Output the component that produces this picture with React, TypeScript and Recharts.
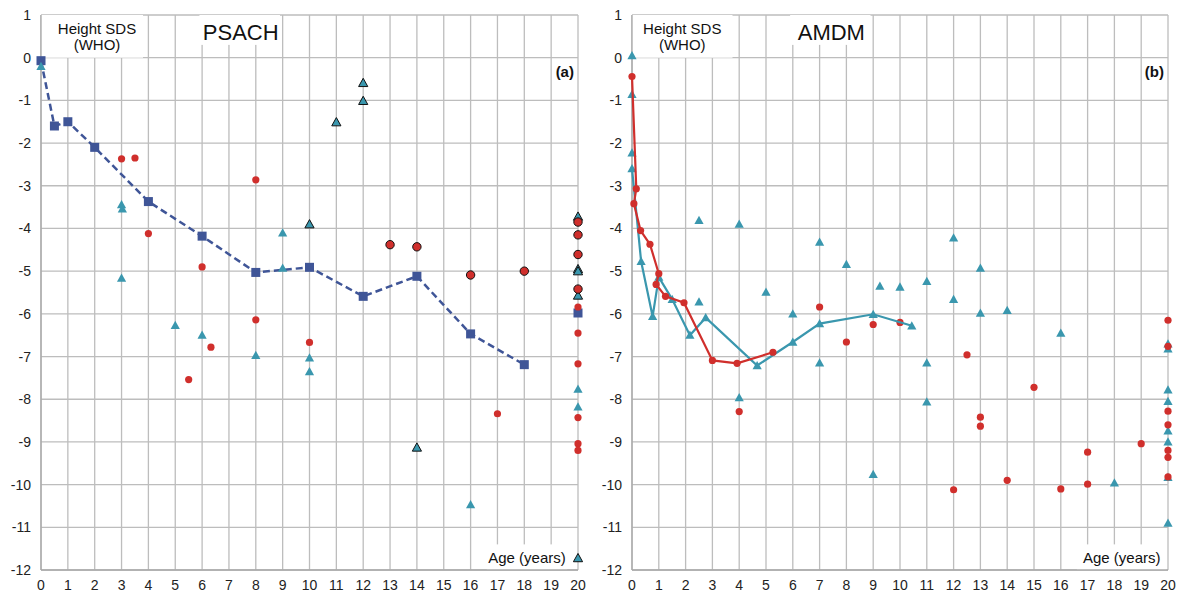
import React from 'react';
import {
  ScatterChart,
  Scatter,
  XAxis,
  YAxis,
  CartesianGrid,
  ReferenceArea,
} from 'recharts';

// ages 0..20, height SDS -12..1
const ageTicks = [0, 1, 2, 3, 4, 5, 6, 7, 8, 9, 10, 11, 12, 13, 14, 15, 16, 17, 18, 19, 20];
const sdsTicks = [1, 0, -1, -2, -3, -4, -5, -6, -7, -8, -9, -10, -11, -12];

// (a) PSACH
const psachMeanAge = [0, 0.5, 1, 2, 4, 6, 8, 10, 12, 14, 16, 18];
const psachMeanSds = [-0.07, -1.6, -1.5, -2.1, -3.37, -4.18, -5.03, -4.91, -5.59, -5.12, -6.47, -7.19];
const psachAdultMeanAge = [20];
const psachAdultMeanSds = [-5.98];
const psachTriAge = [0, 3, 3.03, 3, 5, 6, 8, 9, 9, 10, 10, 16, 20, 20];
const psachTriSds = [-0.2, -3.44, -3.54, -5.16, -6.27, -6.5, -6.97, -4.1, -4.93, -7.03, -7.35, -10.47, -7.76, -8.18];
const psachDotAge = [3, 3.5, 4, 6, 8, 8, 5.5, 6.33, 10, 17, 20, 20, 20, 20, 20, 20];
const psachDotSds = [-2.37, -2.35, -4.12, -4.9, -2.86, -6.14, -7.54, -6.78, -6.67, -8.34, -5.84, -6.45, -7.17, -8.43, -9.04, -9.2];
const psachTriOutAge = [12, 12, 11, 10, 14, 20, 20, 20, 20, 20];
const psachTriOutSds = [-0.59, -1.01, -1.51, -3.9, -9.13, -11.72, -3.72, -4.95, -5.0, -5.57];
const psachDotOutAge = [13, 14, 16, 18, 20, 20, 20, 20];
const psachDotOutSds = [-4.38, -4.43, -5.09, -5.0, -3.85, -4.15, -4.61, -5.42];

// (b) AMDM
const amdmRedLineAge = [0, 0.16, 0.07, 0.32, 0.67, 1.0, 0.9, 1.25, 1.94, 3, 3.92, 5.26];
const amdmRedLineSds = [-0.44, -3.07, -3.42, -4.05, -4.37, -5.06, -5.31, -5.59, -5.74, -7.09, -7.16, -6.9];
const amdmTealLineAge = [0, 0.34, 0.77, 1.0, 1.5, 2.16, 2.75, 4.67, 6, 7, 9, 10.44];
const amdmTealLineSds = [-2.6, -4.77, -6.06, -5.14, -5.66, -6.5, -6.09, -7.21, -6.66, -6.23, -6.01, -6.28];
const amdmTriAge = [0, 0, 0, 2.5, 4, 7, 8, 9.25, 12, 13, 10, 11, 12, 2.5, 5, 6, 7, 4, 9, 13, 14, 16, 11, 11, 18, 20, 20, 20, 20, 20, 20, 20, 20];
const amdmTriSds = [0.05, -0.86, -2.23, -3.81, -3.9, -4.32, -4.84, -5.35, -4.22, -4.93, -5.37, -5.24, -5.66, -5.72, -5.49, -6.0, -7.15, -7.96, -9.76, -5.98, -5.92, -6.45, -7.15, -8.06, -9.96, -6.7, -6.82, -7.78, -8.05, -8.74, -9.0, -9.83, -10.9];
const amdmDotAge = [7, 9, 8, 4, 10, 12.5, 15, 13, 13, 17, 19, 12, 14, 16, 17, 20, 20, 20, 20, 20, 20, 20];
const amdmDotSds = [-5.84, -6.25, -6.66, -8.29, -6.2, -6.96, -7.72, -8.42, -8.63, -9.24, -9.04, -10.12, -9.9, -10.1, -9.99, -6.15, -6.76, -8.28, -8.6, -9.2, -9.36, -9.82];

const TEAL = '#3A97AE';
const RED = '#D02F2C';
const NAVY = '#3F5597';
const GRID = '#BDBDBD';
const FONT = '"Liberation Sans", Arial, sans-serif';

const zip = (xs: number[], ys: number[]) => xs.map((x, i) => ({ x, y: ys[i] }));

const dot = (r: number, fill: string, stroke?: string) => (p: any) => (
  <circle cx={p.cx} cy={p.cy} r={r} fill={fill} stroke={stroke || 'none'} strokeWidth={1} />
);
const tri = (fill: string, stroke?: string) => (p: any) => {
  const s = 4.6;
  return (
    <polygon
      points={`${p.cx},${p.cy - s} ${p.cx + s},${p.cy + s * 0.8} ${p.cx - s},${p.cy + s * 0.8}`}
      fill={fill}
      stroke={stroke || 'none'}
      strokeWidth={1}
    />
  );
};
const square = (fill: string) => (p: any) => (
  <rect x={p.cx - 4.5} y={p.cy - 4.5} width={9} height={9} fill={fill} />
);

interface Line { text: string; dy: number; size: number; bold?: boolean }

const box = (lines: Line[], fill: string | null, dx = 0, anchor: 'middle' | 'end' = 'middle') => (p: any) => {
  const tx = anchor === 'end' ? p.x + p.width : p.x + p.width / 2 + dx;
  return (
    <g>
      {fill && <rect x={p.x} y={p.y} width={p.width} height={p.height} fill={fill} />}
      {lines.map((l, i) => (
        <text
          key={i}
          x={tx}
          y={p.y + l.dy}
          textAnchor={anchor}
          fontSize={l.size}
          fontWeight={l.bold ? 'bold' : 'normal'}
          fontFamily={FONT}
          fill="#111"
        >
          {l.text}
        </text>
      ))}
    </g>
  );
};

const heightLabel: Line[] = [
  { text: 'Height SDS', dy: 19, size: 15 },
  { text: '(WHO)', dy: 35, size: 15 },
];
const ageLabel: Line[] = [{ text: 'Age (years)', dy: 19, size: 15 }];

function Panel({
  title,
  tag,
  right,
  hsdsDx,
  hsdsX2,
  ageX1,
  ageX2,
  children,
}: {
  title: string;
  tag: string;
  right: number;
  hsdsDx: number;
  hsdsX2: number;
  ageX1: number;
  ageX2: number;
  children: React.ReactNode;
}) {
  return (
    <ScatterChart width={591} height={593} margin={{ top: 15, right, bottom: 0, left: 0 }}>
      <CartesianGrid stroke={GRID} strokeWidth={1.3} />
      <XAxis
        type="number"
        dataKey="x"
        domain={[0, 20]}
        ticks={ageTicks}
        interval={0}
        height={23}
        tickLine={false}
        tickSize={0}
        tickMargin={10}
        axisLine={{ stroke: '#A8A8A8', strokeWidth: 1.3 }}
        tick={{ fontSize: 14, fill: '#222', fontFamily: FONT }}
      />
      <YAxis
        type="number"
        dataKey="y"
        domain={[-12, 1]}
        ticks={sdsTicks}
        interval={0}
        width={41}
        tickLine={false}
        tickSize={0}
        tickMargin={10}
        axisLine={{ stroke: '#A8A8A8', strokeWidth: 1.3 }}
        tick={{ fontSize: 14, fill: '#222', fontFamily: FONT }}
      />
      <ReferenceArea x1={0} x2={hsdsX2} y1={0} y2={1} shape={box(heightLabel, '#fff', hsdsDx)} />
      <ReferenceArea
        x1={5.9}
        x2={8.9}
        y1={0.3}
        y2={1}
        shape={box([{ text: title, dy: 25, size: 22 }], '#fff', 1)}
      />
      <ReferenceArea
        x1={18.5}
        x2={19.85}
        y1={-0.12}
        y2={-0.6}
        shape={box([{ text: tag, dy: 14, size: 15, bold: true }], null, 0, 'end')}
      />
      <ReferenceArea x1={ageX1} x2={ageX2} y1={-12} y2={-11.4} shape={box(ageLabel, '#fff')} />
      {children}
    </ScatterChart>
  );
}

export default function App() {
  return (
    <div
      style={{
        position: 'absolute',
        left: 0,
        top: 0,
        width: 1182,
        height: 593,
        display: 'flex',
        background: '#fff',
      }}
    >
      <Panel title="PSACH" tag="(a)" right={13} hsdsDx={5} hsdsX2={3.8} ageX1={16.6} ageX2={19.6}>
        <Scatter
          data={zip(psachMeanAge, psachMeanSds)}
          shape={square(NAVY)}
          line={{ stroke: NAVY, strokeWidth: 2.5, strokeDasharray: '7 4' }}
          isAnimationActive={false}
        />
        <Scatter data={zip(psachAdultMeanAge, psachAdultMeanSds)} shape={square(NAVY)} isAnimationActive={false} />
        <Scatter data={zip(psachTriAge, psachTriSds)} shape={tri(TEAL)} isAnimationActive={false} />
        <Scatter data={zip(psachDotAge, psachDotSds)} shape={dot(3.6, RED)} isAnimationActive={false} />
        <Scatter data={zip(psachTriOutAge, psachTriOutSds)} shape={tri(TEAL, '#111')} isAnimationActive={false} />
        <Scatter data={zip(psachDotOutAge, psachDotOutSds)} shape={dot(4.2, RED, '#111')} isAnimationActive={false} />
      </Panel>
      <Panel title="AMDM" tag="(b)" right={14} hsdsDx={0} hsdsX2={3.75} ageX1={16.6} ageX2={19.95}>
        <Scatter data={zip(amdmTriAge, amdmTriSds)} shape={tri(TEAL)} isAnimationActive={false} />
        <Scatter data={zip(amdmDotAge, amdmDotSds)} shape={dot(3.6, RED)} isAnimationActive={false} />
        <Scatter
          data={zip(amdmTealLineAge, amdmTealLineSds)}
          shape={tri(TEAL)}
          line={{ stroke: TEAL, strokeWidth: 2.2 }}
          isAnimationActive={false}
        />
        <Scatter
          data={zip(amdmRedLineAge, amdmRedLineSds)}
          shape={dot(3.6, RED)}
          line={{ stroke: RED, strokeWidth: 2.2 }}
          isAnimationActive={false}
        />
      </Panel>
    </div>
  );
}
